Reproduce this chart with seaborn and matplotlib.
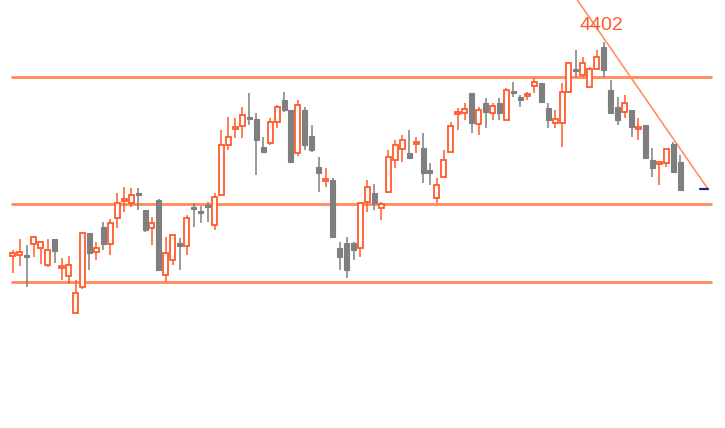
import numpy as np
import pandas as pd
import matplotlib
matplotlib.use('Agg')
import matplotlib.pyplot as plt
import seaborn as sns

# daily candles (open, high, low, close)
opens = [3974, 3976, 3976, 3998, 3990, 3956, 4008, 3950, 3934, 3860,
         3912, 4020, 3982, 4032, 3998, 4050, 4084, 4080, 4100, 4066,
         4030, 4086, 3936, 3966, 4000, 3994, 4072, 4064, 4076, 4036,
         4096, 4196, 4228, 4234, 4252, 4248, 4192, 4200, 4242, 4286,
         4266, 4180, 4266, 4214, 4152, 4124, 4126, 3990, 4000, 4000,
         3990, 4082, 4100, 4070, 4102, 4166, 4188, 4180, 4198, 4190,
         4146, 4090, 4132, 4182, 4258, 4260, 4300, 4238, 4280, 4260,
         4280, 4246, 4304, 4292, 4294, 4314, 4320, 4270, 4240, 4240,
         4302, 4348, 4336, 4312, 4348, 4392, 4306, 4272, 4262, 4266,
         4228, 4236, 4166, 4158, 4160, 4198, 4162]
highs = [3986, 4008, 3996, 4012, 4002, 4008, 4008, 3970, 3974, 3926,
         4020, 4020, 4002, 4042, 4048, 4100, 4112, 4110, 4110, 4066,
         4052, 4088, 4012, 4016, 4010, 4056, 4080, 4074, 4082, 4100,
         4226, 4252, 4250, 4272, 4300, 4260, 4212, 4250, 4276, 4302,
         4266, 4286, 4272, 4236, 4172, 4150, 4130, 4002, 4012, 4002,
         4080, 4126, 4118, 4082, 4186, 4206, 4216, 4226, 4212, 4220,
         4160, 4130, 4186, 4242, 4270, 4280, 4300, 4272, 4290, 4280,
         4290, 4310, 4322, 4296, 4302, 4330, 4320, 4280, 4266, 4320,
         4362, 4386, 4372, 4352, 4386, 4402, 4326, 4292, 4296, 4266,
         4250, 4236, 4190, 4162, 4188, 4202, 4176]
lows = [3940, 3954, 3912, 3972, 3958, 3952, 3960, 3926, 3918, 3860,
        3908, 3946, 3966, 3986, 3976, 4030, 4062, 4072, 4066, 4022,
        3996, 3946, 3922, 3956, 3946, 3976, 4032, 4040, 4042, 4026,
        4096, 4186, 4210, 4210, 4236, 4136, 4182, 4196, 4230, 4262,
        4160, 4174, 4186, 4182, 4102, 4112, 4012, 3946, 3930, 3966,
        3972, 4062, 4066, 4046, 4100, 4150, 4162, 4170, 4180, 4120,
        4116, 4080, 4130, 4182, 4226, 4246, 4220, 4216, 4230, 4246,
        4246, 4246, 4292, 4272, 4286, 4300, 4282, 4230, 4230, 4192,
        4300, 4332, 4332, 4312, 4346, 4332, 4260, 4236, 4250, 4212,
        4206, 4170, 4132, 4116, 4152, 4140, 4106]
closes = [3980, 3982, 3972, 4012, 4002, 3986, 3984, 3954, 3956, 3900,
          4020, 3980, 3990, 3998, 4040, 4080, 4088, 4096, 4096, 4026,
          4040, 3946, 3980, 4016, 3994, 4050, 4068, 4060, 4072, 4092,
          4196, 4212, 4232, 4256, 4248, 4206, 4182, 4242, 4272, 4266,
          4162, 4276, 4196, 4186, 4140, 4128, 4012, 3972, 3946, 3986,
          4080, 4112, 4080, 4078, 4172, 4196, 4206, 4170, 4202, 4140,
          4140, 4116, 4166, 4234, 4262, 4268, 4240, 4266, 4262, 4274,
          4260, 4306, 4300, 4286, 4298, 4322, 4282, 4246, 4248, 4302,
          4360, 4344, 4360, 4348, 4372, 4346, 4260, 4246, 4280, 4232,
          4232, 4170, 4150, 4162, 4188, 4142, 4106]

levels = [4332, 4078, 3922]          # horizontal support / resistance lines
trend_x = [81.2, 100.0]              # falling trend line (candle index)
trend_y = [4486, 4108]
peak_label = '4402'
last_mark = 4108

df = pd.DataFrame({'open': opens, 'high': highs, 'low': lows, 'close': closes})
df['i'] = np.arange(len(df))
df['up'] = df['close'] >= df['open']

sns.set_theme(style='white')

UP = '#ff5a2a'
DOWN = '#7f7f7f'
LINE = '#ff8a58'

fig = plt.figure(figsize=(7.25, 4.28), dpi=100)
ax = fig.add_axes([0, 0, 1, 1])

# level lines
for lv in levels:
    sns.lineplot(x=[-0.2, 100.4], y=[lv, lv], color=LINE, linewidth=2, ax=ax)

# trend line
sns.lineplot(x=trend_x, y=trend_y, color=LINE, linewidth=1.1, ax=ax)

# wicks
colors = np.where(df['up'], UP, DOWN)
ax.vlines(df['i'], df['low'], df['high'], colors=colors, linewidth=1.1, zorder=3)

# bodies
w = 0.72
bottom = np.minimum(df['open'], df['close'])
height = np.maximum((df['close'] - df['open']).abs(), 2)
up = df[df['up']]
dn = df[~df['up']]
ax.bar(up['i'], height[df['up']], w, bottom=bottom[df['up']],
       facecolor='white', edgecolor=UP, linewidth=1.3, zorder=4)
ax.bar(dn['i'], height[~df['up']], w, bottom=bottom[~df['up']],
       facecolor=DOWN, edgecolor=DOWN, linewidth=0.8, zorder=4)

ax.text(84.6, 4436, peak_label, color='#ff5a30', fontsize=14,
        ha='center', va='center',
        family=['Liberation Sans Narrow', 'Liberation Sans', 'DejaVu Sans'])
ax.plot([98.8, 100.0], [last_mark, last_mark], color='#1a237e', linewidth=1.6)

ax.set_xlim(-1.87, 102.45)
ax.set_ylim(3630, 4486)
ax.axis('off')

fig.savefig('out.png', dpi=100)
